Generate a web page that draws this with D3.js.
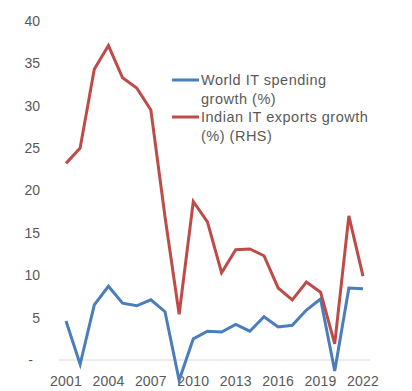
<!DOCTYPE html>
<html>
<head>
<meta charset="utf-8">
<script src="https://cdn.jsdelivr.net/npm/d3@7"></script>
<style>
  html, body { margin: 0; padding: 0; background: #fff; }
  svg { display: block; font-family: "Liberation Sans", Arial, sans-serif; }
</style>
</head>
<body>
<svg id="chart" width="412" height="391"></svg>
<script>
const years = [2001,2002,2003,2004,2005,2006,2007,2008,2009,2010,2011,2012,2013,2014,2015,2016,2017,2018,2019,2020,2021,2022];
const worldIT = [4.6,-0.5,6.5,8.7,6.7,6.4,7.1,5.7,-2.4,2.5,3.4,3.3,4.2,3.4,5.1,3.9,4.1,5.9,7.2,-1.3,8.5,8.4];
const indianIT = [23.2,25.0,34.3,37.1,33.3,32.1,29.5,16.9,5.4,18.7,16.3,10.3,13.0,13.1,12.3,8.5,7.1,9.2,8.0,1.9,17.0,9.9];
const yTicks = [0,5,10,15,20,25,30,35,40];
const xTickYears = [2001,2004,2007,2010,2013,2016,2019,2022];
const seriesNames = ["World IT spending growth (%)", "Indian IT exports growth (%) (RHS)"];
const legendLines = [["World IT spending", "growth (%)"], ["Indian IT exports growth", "(%) (RHS)"]];
const colors = ["#4a7ebb", "#be4b48"];

const svg = d3.select("#chart");
const x = d3.scaleLinear().domain([2001, 2022]).range([66, 363]);
const y = d3.scaleLinear().domain([0, 40]).range([360, 21]);
const textColor = "#595959";

// y tick labels
svg.append("g").selectAll("text").data(yTicks).join("text")
  .attr("x", d => d === 0 ? 33 : 40)
  .attr("y", d => y(d))
  .attr("dy", "0.35em")
  .attr("text-anchor", "end")
  .attr("fill", textColor)
  .attr("font-size", 14)
  .text(d => d === 0 ? "-" : d);

// baseline
svg.append("line")
  .attr("x1", 59).attr("x2", 370)
  .attr("y1", y(0)).attr("y2", y(0))
  .attr("stroke", "#d9d9d9").attr("stroke-width", 1);

// x tick labels
svg.append("g").selectAll("text").data(xTickYears).join("text")
  .attr("x", d => x(d))
  .attr("y", 386)
  .attr("text-anchor", "middle")
  .attr("fill", textColor)
  .attr("font-size", 14)
  .attr("letter-spacing", 0.2)
  .text(d => d);

const line = d3.line().x((d, i) => x(years[i])).y(d => y(d));
[worldIT, indianIT].forEach((s, k) => {
  svg.append("path")
    .datum(s)
    .attr("d", line)
    .attr("fill", "none")
    .attr("stroke", colors[k])
    .attr("stroke-width", 3)
    .attr("stroke-linejoin", "miter");
});

// legend
const lg = svg.append("g");
const legendY = [80, 117];
legendLines.forEach((lines, k) => {
  lg.append("line")
    .attr("x1", 172).attr("x2", 199)
    .attr("y1", legendY[k]).attr("y2", legendY[k])
    .attr("stroke", colors[k]).attr("stroke-width", 3);
  lines.forEach((t, j) => {
    lg.append("text")
      .attr("x", 201)
      .attr("y", legendY[k] + j * 18.5)
      .attr("dy", "0.35em")
      .attr("fill", textColor)
      .attr("font-size", 14.5)
      .attr("letter-spacing", 0.5)
      .text(t);
  });
});
</script>
</body>
</html>
